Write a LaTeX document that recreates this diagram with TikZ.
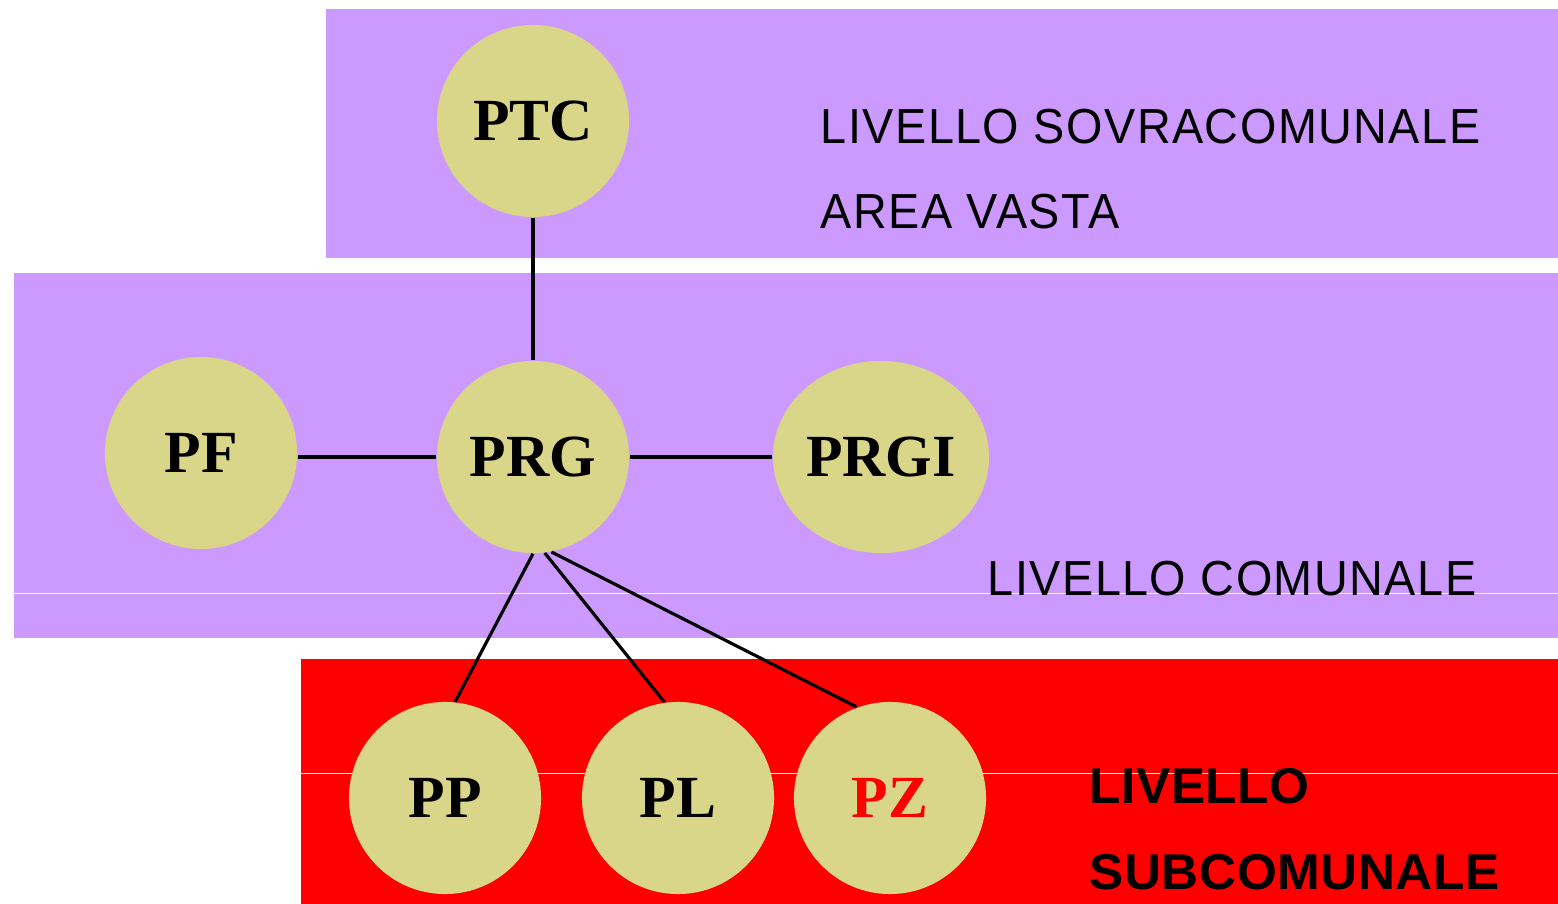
\documentclass[tikz,border=0pt]{standalone}
\usepackage{fontspec}
\setmainfont{Liberation Serif}
\newfontfamily\levelfont{Liberation Sans}[FakeStretch=0.95, LetterSpace=3]
\newfontfamily\sublevelfont{Liberation Sans}[FakeStretch=1.02, LetterSpace=1]
\usetikzlibrary{shapes.geometric}
\definecolor{bandlilac}{HTML}{CC99FF}
\definecolor{bandred}{HTML}{FF0000}
\definecolor{plankhaki}{HTML}{D9D589}

\begin{document}
\begin{tikzpicture}[x=0.01cm, y=-0.01cm,
    plan/.style={circle, fill=plankhaki, minimum size=1.92cm, inner sep=0pt, font=\fontsize{17}{20}\selectfont\bfseries},
    level/.style={anchor=base west, inner sep=0pt, font=\levelfont\fontsize{14}{16}\selectfont},
    sublevel/.style={anchor=base west, inner sep=0pt, font=\sublevelfont\fontsize{14.3}{16}\selectfont\bfseries}]
    \useasboundingbox (0,0) rectangle (1558,904);

    % Layers
    \fill[bandlilac] (326,9) rectangle (1558,258);
    \fill[bandlilac] (14,273) rectangle (1558,638);
    \fill[bandred] (301,659) rectangle (1558,904);
    \draw[white, very thin] (14,593) -- (1558,593);
    \draw[white, very thin] (301,773) -- (1558,773);

    % Plans
    \node[plan] (PTC) at (533,121) {PTC};
    \node[plan] (PRG) at (533,457) {PRG};
    \node[plan] (PF) at (201,453) {PF};
    \node[plan, ellipse, minimum width=2.16cm, minimum height=1.92cm] (PRGI) at (881,457) {PRGI};
    \node[plan] (PP) at (445,798) {PP};
    \node[plan] (PL) at (678,798) {PL};
    \node[plan, text=red] (PZ) at (890,798) {PZ};

    % Dependencies
    \draw[line width=0.9pt] (PTC) -- (PRG);
    \draw[line width=0.9pt] (PRG.west) -- (PRG.west -| PF.east);
    \draw[line width=0.9pt] (PRG) -- (PRGI);
    \draw[line width=0.9pt] (PRG.south) -- (PP.84);
    \draw[line width=0.9pt] (PRG.-83) -- (PL.98);
    \draw[line width=0.9pt] (PRG.-79) -- (PZ.110);

    % Labels
    \node[level] (sovra) at (820,144) {LIVELLO SOVRACOMUNALE};
    \node[level] (vasta) at (820,229) {AREA VASTA};
    \node[level] (comunale) at (987,596) {LIVELLO COMUNALE};
    \node[sublevel] (livello) at (1089,804) {LIVELLO};
    \node[sublevel] (subcomunale) at (1089,889) {SUBCOMUNALE};
\end{tikzpicture}
\end{document}
